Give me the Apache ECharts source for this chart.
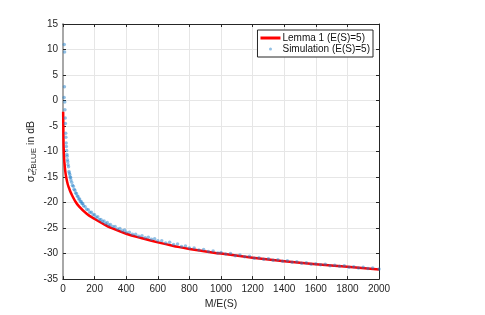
<!DOCTYPE html>
<html>
<head>
<meta charset="utf-8">
<script src="https://cdn.jsdelivr.net/npm/echarts@6/dist/echarts.min.js"></script>
<style>
  html, body { margin: 0; padding: 0; background: #fff; }
  #chart { width: 485px; height: 315px; }
</style>
</head>
<body>
<div id="chart"></div>
<script>
// Lemma 1 curve (dB)
const lemmaM = [1, 2, 3, 4, 6, 8, 10, 15, 20, 30, 40, 50, 75, 100, 150, 200, 250, 300, 400, 500, 600, 700, 800, 1000, 1200, 1400, 1600, 1800, 2000];
const lemmaDb = [-2.2, -5, -7.5, -9, -10.5, -11.8, -12.5, -14, -15, -16.4, -17.3, -18.1, -19.6, -20.7, -22.2, -23.2, -24.1, -24.9, -26.1, -27.0, -27.8, -28.5, -29.1, -30.0, -30.8, -31.5, -32.1, -32.6, -33.1];

// simulation dots (dB)
const simM = [8, 10, 9, 7, 11, 12, 14, 15, 17, 18, 20, 21, 23, 25, 26, 28, 30, 32, 35, 38, 40, 43, 45, 48, 50, 55, 60, 65, 70, 75, 80, 85, 90, 95, 100, 105, 110, 115, 120, 125, 130, 140, 150, 160, 170, 180, 190, 200, 210, 220, 230, 240, 250, 260, 270, 280, 290, 300, 315, 330, 345, 360, 375, 390, 400, 420, 440, 460, 480, 500, 520, 540, 560, 580, 600, 625, 650, 675, 700, 725, 750, 775, 800, 830, 860, 890, 920, 950, 980, 1000, 1030, 1060, 1090, 1120, 1150, 1180, 1210, 1240, 1270, 1300, 1330, 1360, 1390, 1420, 1450, 1480, 1510, 1540, 1570, 1600, 1630, 1660, 1690, 1720, 1750, 1780, 1810, 1840, 1870, 1900, 1930, 1960, 2000];
const simDb = [11.0, 9.5, 2.7, 0.6, -0.3, -1.8, -3.4, -4.5, -6.4, -7.2, -8.3, -9.0, -9.8, -10.6, -10.9, -11.6, -12.0, -12.6, -13.0, -13.9, -14.2, -14.5, -15.0, -15.1, -15.6, -16.0, -16.6, -16.8, -17.4, -17.6, -18.1, -18.2, -18.7, -18.8, -19.3, -19.3, -19.8, -19.8, -20.2, -20.2, -20.6, -20.8, -21.3, -21.4, -21.9, -21.9, -22.4, -22.4, -22.9, -22.8, -23.3, -23.3, -23.7, -23.6, -24.1, -23.9, -24.4, -24.3, -24.7, -24.7, -25.2, -25.1, -25.5, -25.4, -25.8, -25.8, -26.2, -26.2, -26.6, -26.5, -26.9, -26.8, -27.2, -27.1, -27.5, -27.5, -27.9, -27.8, -28.2, -28.1, -28.6, -28.5, -28.9, -28.9, -29.3, -29.2, -29.6, -29.5, -29.9, -29.8, -30.1, -30.0, -30.4, -30.3, -30.6, -30.5, -30.9, -30.8, -31.1, -31.0, -31.3, -31.2, -31.5, -31.4, -31.7, -31.6, -31.9, -31.8, -32.1, -32.0, -32.2, -32.1, -32.4, -32.3, -32.5, -32.4, -32.7, -32.6, -32.8, -32.7, -32.9, -32.8, -33.0];

const xTicks = [0, 200, 400, 600, 800, 1000, 1200, 1400, 1600, 1800, 2000];
const yTicks = [-35, -30, -25, -20, -15, -10, -5, 0, 5, 10, 15];

const chart = echarts.init(document.getElementById('chart'));
const font = 'Liberation Sans, Arial, sans-serif';
const dark = '#262626';

const boxAxis = {
  axisLine: { show: true, onZero: false, lineStyle: { color: dark, width: 1 } },
  axisTick: { show: true, inside: true, length: 3, lineStyle: { color: dark } },
  axisLabel: { show: false },
  splitLine: { show: false }
};

chart.setOption({
  animation: false,
  textStyle: { fontFamily: font },
  grid: { left: 63, right: 106, top: 24, bottom: 35 },
  legend: {
    right: 112,
    top: 30,
    orient: 'vertical',
    itemGap: 1,
    itemWidth: 20,
    itemHeight: 3,
    padding: [3, 3, 3, 3],
    borderColor: dark,
    borderWidth: 1,
    borderRadius: 0,
    backgroundColor: '#fff',
    textStyle: { fontSize: 10, color: '#111', fontFamily: font, padding: [0, 0, 0, -3] },
    data: [
      { name: 'Lemma 1 (E(S)=5)', icon: 'rect' },
      { name: 'Simulation (E(S)=5)', icon: 'circle' }
    ]
  },
  xAxis: [{
    type: 'value',
    min: xTicks[0],
    max: xTicks[xTicks.length - 1],
    interval: 200,
    name: 'M/E(S)',
    nameLocation: 'middle',
    nameGap: 17,
    nameTextStyle: { fontSize: 10.5, color: dark },
    axisLine: { onZero: false, lineStyle: { color: dark, width: 1 } },
    axisTick: { inside: true, length: 3, lineStyle: { color: dark } },
    axisLabel: { fontSize: 10, color: dark, margin: 5, formatter: v => String(v) },
    splitLine: { show: true, lineStyle: { color: '#e6e6e6', width: 1 } }
  }, Object.assign({
    type: 'value', position: 'top', min: xTicks[0], max: xTicks[xTicks.length - 1], interval: 200
  }, boxAxis)],
  yAxis: [{
    type: 'value',
    min: yTicks[0],
    max: yTicks[yTicks.length - 1],
    interval: 5,
    name: '{s|σ}{b|e,BLUE}{t| in dB}',
    nameLocation: 'middle',
    nameGap: 25,
    nameMoveOverlap: false,
    nameTextStyle: {
      color: dark,
      rich: {
        s: { fontSize: 11, color: dark, fontFamily: font },
        b: { fontSize: 8, color: dark, fontFamily: font, padding: [6, 0, 0, 0] },
        t: { fontSize: 10.5, color: dark, fontFamily: font }
      }
    },
    axisLine: { show: true, onZero: false, lineStyle: { color: '#a8a8a8', width: 2 } },
    axisTick: { show: true, inside: true, length: 3, lineStyle: { color: dark } },
    axisLabel: { fontSize: 10, color: dark, margin: 5 },
    splitLine: { show: true, lineStyle: { color: '#e6e6e6', width: 1 } }
  }, Object.assign({
    type: 'value', position: 'right', min: yTicks[0], max: yTicks[yTicks.length - 1], interval: 5
  }, boxAxis)],
  graphic: [{
    type: 'text',
    left: 27,
    top: 168,
    rotation: Math.PI / 2,
    style: { text: '2', fontSize: 8, fill: dark, fontFamily: font }
  }],
  series: [
    {
      name: 'Lemma 1 (E(S)=5)',
      type: 'line',
      data: lemmaM.map((m, i) => [m, lemmaDb[i]]),
      smooth: true,
      showSymbol: false,
      lineStyle: { color: '#ff0000', width: 2.5 },
      itemStyle: { color: '#ff0000' },
      z: 2
    },
    {
      name: 'Simulation (E(S)=5)',
      type: 'scatter',
      data: simM.map((m, i) => [m, simDb[i]]),
      symbolSize: 3.5,
      itemStyle: { color: 'rgba(30, 125, 200, 0.6)' },
      z: 3
    }
  ]
});
</script>
</body>
</html>
